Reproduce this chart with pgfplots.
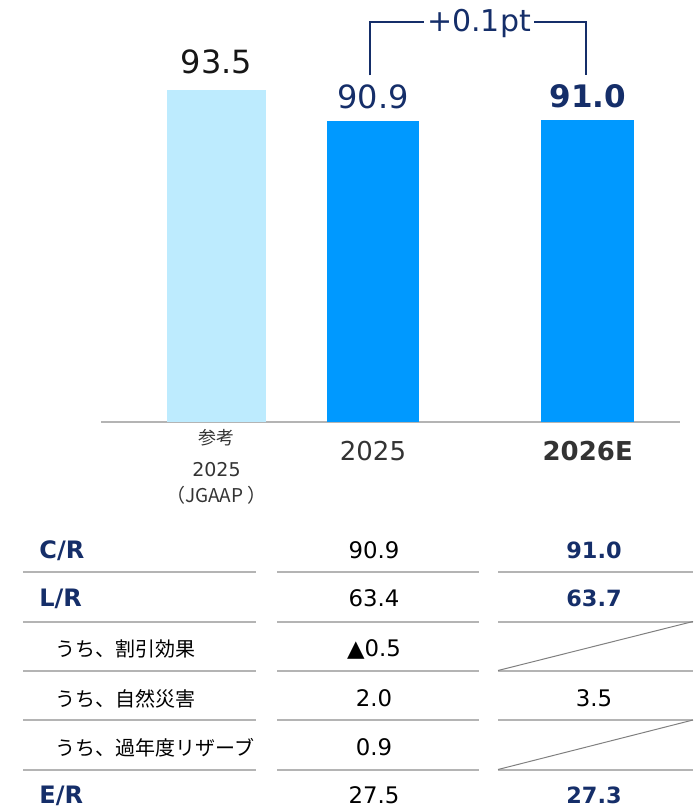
\documentclass[border=0pt]{standalone}
\usepackage{pgfplots}
\pgfplotsset{compat=1.18}
\usepackage{fontspec}
\setmainfont{DejaVu Sans}
\newfontfamily\jp{Noto Sans CJK JP}
\definecolor{navy}{HTML}{152E69}
\definecolor{lightbar}{HTML}{BDEBFE}
\definecolor{bluebar}{HTML}{0099FF}
\definecolor{rulegray}{HTML}{B4B4B4}
\definecolor{diaggray}{HTML}{808080}
\definecolor{catgray}{HTML}{333333}
\definecolor{nearblack}{HTML}{161616}
\begin{document}
\begin{tikzpicture}
\begin{scope}[x=0.5pt,y=-0.5pt]
\path[use as bounding box] (0,0) rectangle (693,808);
\end{scope}
\begin{axis}[
  at={(50.5pt,-211pt)}, anchor=south west,
  scale only axis, width=289.5pt, height=211pt,
  xmin=101, xmax=680, ymin=65.39, ymax=101.12,
  axis x line=bottom, axis y line=none,
  x axis line style={rulegray, line width=1pt, -},
  ytick=\empty,
  xtick={216.5,373,587.7},
  xticklabels={{\raisebox{8pt}{\fontsize{9.5pt}{11.4pt}\selectfont\color{catgray}\begin{tabular}[t]{@{}c@{}}{\jp\fontsize{9pt}{11.4pt}\selectfont 参考}\\[4.6pt]2025\\[1.6pt]{\jp （JGAAP ）}\end{tabular}}},
               {2025},{\textbf{2026E}}},
  xticklabel style={font=\fontsize{13pt}{15.6pt}\selectfont, text=catgray, anchor=base, inner sep=0pt, yshift=-19pt},
  major tick length=0pt,
  /pgf/number format/.cd, fixed, fixed zerofill, precision=1, assume math mode=true,
]
\addplot[ybar, bar width=49.2pt, bar shift=0pt, fill=lightbar, draw=none,
  nodes near coords,
  every node near coord/.append style={anchor=base, inner sep=0pt, yshift=8pt, text=nearblack, font=\fontsize{16pt}{19pt}\selectfont}]
  coordinates {(216.5,93.5)};
\addplot[ybar, bar width=46.3pt, bar shift=0pt, fill=bluebar, draw=none,
  nodes near coords,
  every node near coord/.append style={anchor=base, inner sep=0pt, yshift=6.2pt, text=navy, font=\fontsize{16pt}{19pt}\selectfont}]
  coordinates {(373,90.9)};
\addplot[ybar, bar width=46.6pt, bar shift=0pt, fill=bluebar, draw=none,
  nodes near coords,
  every node near coord/.append style={anchor=base, inner sep=0pt, yshift=6.2pt, text=navy, font=\fontsize{15.5pt}{18.6pt}\selectfont\bfseries}]
  coordinates {(587.7,91.0)};
\end{axis}
\begin{scope}[x=0.5pt,y=-0.5pt]
% bracket
\draw[navy, line width=1pt] (370,75.5) -- (370,22.5) -- (424,22.5);
\draw[navy, line width=1pt] (534,22.5) -- (586,22.5) -- (586,75);
\node[navy, anchor=base, inner sep=0pt, font=\fontsize{15pt}{18pt}\selectfont] at (479,31.7) {+0.1pt};
% table rules
\foreach \y in {572,621.5,671,720,770} {
  \draw[rulegray, line width=1pt] (23,\y) -- (256,\y);
  \draw[rulegray, line width=1pt] (277,\y) -- (479,\y);
  \draw[rulegray, line width=1pt] (498,\y) -- (693,\y);
}
\draw[diaggray, line width=0.5pt] (498,670.5) -- (693,621.5);
\draw[diaggray, line width=0.5pt] (498,769.5) -- (693,720);
% row labels
\tikzset{lab/.style={anchor=base west, inner sep=0pt, text=navy, font=\fontsize{12pt}{14pt}\selectfont\bfseries},
         jlab/.style={anchor=base west, inner sep=0pt, text=black, font=\jp\fontsize{10pt}{12pt}\selectfont},
         num/.style={anchor=base, inner sep=0pt, text=black, font=\fontsize{11.4pt}{13.7pt}\selectfont},
         bnum/.style={anchor=base, inner sep=0pt, text=navy, font=\fontsize{11.2pt}{13.4pt}\selectfont\bfseries}}
\node[lab] at (39,558.3) {C/R};
\node[lab] at (39,606.7) {L/R};
\node[jlab] at (55,656.7) {うち、割引効果};
\node[jlab] at (55,706.7) {うち、自然災害};
\node[jlab] at (55,755) {うち、過年度リザーブ};
\node[lab] at (39,803.3) {E/R};
% middle column (2025)
\node[num] at (374,558.3) {90.9};
\node[num] at (374,606.7) {63.4};
\node[num] at (374,656.7) {▲0.5};
\node[num] at (374,706.7) {2.0};
\node[num] at (374,755) {0.9};
\node[num] at (374,803.3) {27.5};
% right column (2026E)
\node[bnum] at (594,558.3) {91.0};
\node[bnum] at (594,606.7) {63.7};
\node[num] at (594,706.7) {3.5};
\node[bnum] at (594,803.3) {27.3};
\end{scope}
\end{tikzpicture}
\end{document}
